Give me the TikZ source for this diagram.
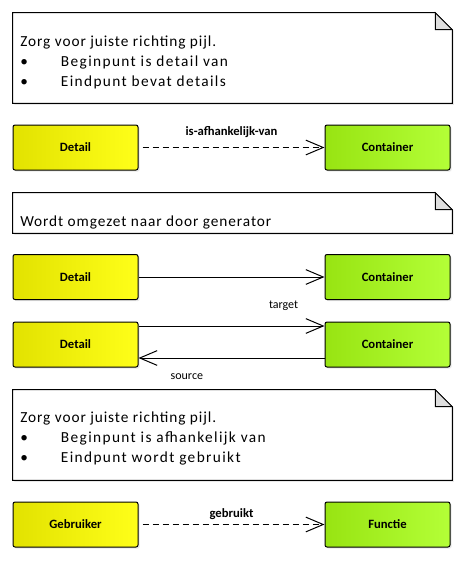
\documentclass[tikz,border=0pt]{standalone}
\usepackage{fontspec}
\setmainfont{Carlito}
\newfontfamily\notizfont[LetterSpace=6]{Carlito}
\newfontfamily\punktfont[LetterSpace=9]{Carlito}
\usetikzlibrary{arrows.meta,calc,positioning,shadows}
\definecolor{gelbL}{RGB}{226,226,0}
\definecolor{gelbR}{RGB}{255,255,25}
\definecolor{gruenL}{RGB}{152,228,18}
\definecolor{gruenR}{RGB}{180,255,55}
\definecolor{knick}{RGB}{222,222,222}
\tikzset{
  klasse/.style={draw,line width=0.75pt,rounded corners=1.5pt,minimum width=93.75pt,minimum height=33.75pt,inner sep=0pt,
    font=\fontsize{9.5}{11}\selectfont\bfseries,drop shadow={shadow xshift=1.2pt,shadow yshift=-1.2pt,opacity=0.18}},
  detail/.style={klasse,left color=gelbL,right color=gelbR},
  container/.style={klasse,left color=gruenL,right color=gruenR},
  notiz/.style={minimum width=329.25pt,inner sep=0pt},
  notiztext/.style={anchor=north west,inner sep=0pt,align=left,font=\notizfont\fontsize{11.5}{15}\selectfont},
  pijl/.style={-{Straight Barb[length=13pt,width=11pt]},line width=0.75pt},
  lbl/.style={font=\fontsize{9}{11}\selectfont,inner sep=0pt},
}
%Notiz mit Eselsohr oben rechts
\newcommand\knickrand[1]{%
  \draw[line width=0.75pt,fill=white,drop shadow={shadow xshift=1.2pt,shadow yshift=-1.2pt,opacity=0.18}]
    (#1.north west) -- ($(#1.north east)+(-17,0)$) -- ($(#1.north east)+(0,17)$) -- (#1.south east) -- (#1.south west) -- cycle;
  \draw[line width=0.75pt,fill=knick] ($(#1.north east)+(-17,0)$) -- ($(#1.north east)+(-17,17)$) -- ($(#1.north east)+(0,17)$) -- cycle;}
\newcommand\punkt[1]{\makebox[30.5pt][l]{\textbullet}{\punktfont\fontsize{11.5}{15}\selectfont #1}}
\begin{document}
\begin{tikzpicture}[x=0.75pt,y=-0.75pt]
  \pgfmathsetmacro{\xl}{75.5}
  \pgfmathsetmacro{\xr}{387.5}
  \useasboundingbox (0,0) rectangle (465,562);
%Notizen
  \node[notiz,minimum height=67.5pt] (n1) at (232.5,58) {};
  \node[notiz,minimum height=30pt] (n2) at (232.5,213) {};
  \node[notiz,minimum height=67.5pt] (n3) at (232.5,435) {};
  \foreach \n in {n1,n2,n3}{\knickrand{\n}}
  \node[notiztext] (t1) at (20,36) {Zorg voor juiste richting pijl.\\\punkt{Beginpunt is detail van}\\\punkt{Eindpunt bevat details}};
  \node[notiztext] (t2) at (20,216) {Wordt omgezet naar door generator};
  \node[notiztext] (t3) at (20,412) {Zorg voor juiste richting pijl.\\\punkt{Beginpunt is afhankelijk van}\\\punkt{Eindpunt wordt gebruikt}};
%Klassen
  \node[detail] (d1) at (\xl,147.5) {Detail};
  \node[container] (c1) at (\xr,147.5) {Container};
  \node[detail] (d2) at (\xl,277) {Detail};
  \node[container] (c2) at (\xr,277) {Container};
  \node[detail] (d3) at (\xl,344.5) {Detail};
  \node[container] (c3) at (\xr,344.5) {Container};
  \node[detail] (g4) at (\xl,524.5) {Gebruiker};
  \node[container] (f4) at (\xr,524.5) {Functie};
%Pfeile
  \draw[pijl,dashed,dash pattern=on 4.5pt off 3pt,shorten <=3pt] (d1) -- node[lbl,above=7pt,font=\fontsize{9.5}{11}\selectfont\bfseries] {is-afhankelijk-van} (c1);
  \draw[pijl] (d2) -- (c2);
  \draw[pijl] ($(d3.east)+(0,-18.5)$) -- node[lbl,pos=0.78,above=11pt] {target} ($(c3.west)+(0,-18.5)$);
  \draw[pijl] ($(c3.west)+(0,13.5)$) -- node[lbl,pos=0.74,below=11pt] {source} ($(d3.east)+(0,13.5)$);
  \draw[pijl,dashed,dash pattern=on 4.5pt off 3pt,shorten <=3pt] (g4) -- node[lbl,above=3pt,font=\fontsize{9.5}{11}\selectfont\bfseries] {gebruikt} (f4);
\end{tikzpicture}
\end{document}
